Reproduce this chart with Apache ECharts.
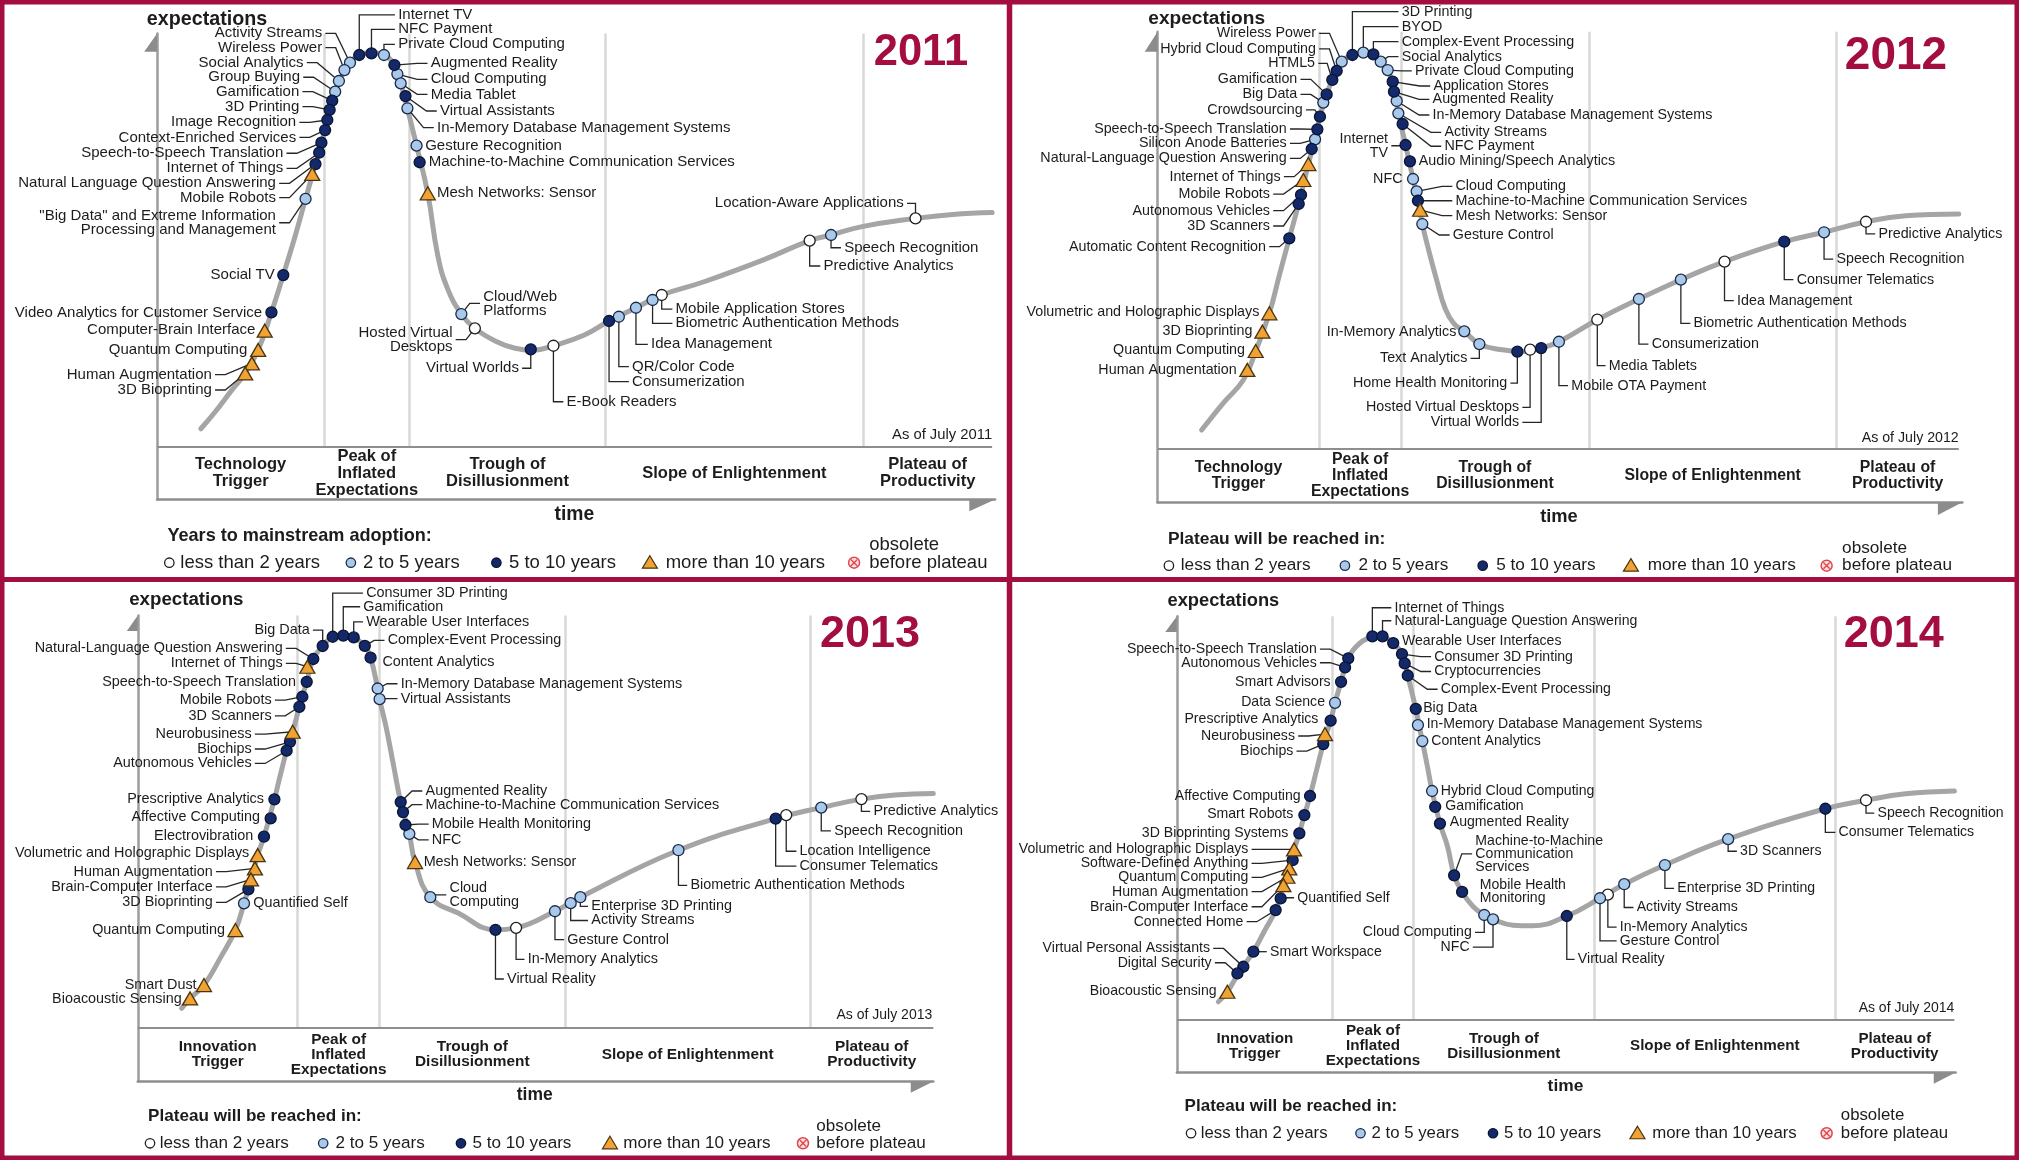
<!DOCTYPE html>
<html>
<head>
<meta charset="utf-8">
<script src="https://cdn.jsdelivr.net/npm/echarts/dist/echarts.min.js"></script>
<style>html,body{margin:0;padding:0;background:#fff;}#c{width:2019px;height:1160px;}</style>
</head>
<body>
<div id="c"></div>
<script>
// ===================== DATA =====================
const categories = ['less than 2 years', '2 to 5 years', '5 to 10 years', 'more than 10 years'];
const obsoleteLabel = ['obsolete', 'before plateau'];
const phasesA = ['Technology\nTrigger', 'Peak of\nInflated\nExpectations', 'Trough of\nDisillusionment', 'Slope of Enlightenment', 'Plateau of\nProductivity'];
const phasesB = ['Innovation\nTrigger', 'Peak of\nInflated\nExpectations', 'Trough of\nDisillusionment', 'Slope of Enlightenment', 'Plateau of\nProductivity'];

// ---- 2011 ----
const names2011 = ['Activity Streams','Wireless Power','Social Analytics','Group Buying','Gamification','3D Printing','Image Recognition','Context-Enriched Services','Speech-to-Speech Translation','Internet of Things','Natural Language Question Answering','Mobile Robots','"Big Data" and Extreme Information\nProcessing and Management','Social TV','Video Analytics for Customer Service','Computer-Brain Interface','Quantum Computing','Human Augmentation','3D Bioprinting','Internet TV','NFC Payment','Private Cloud Computing','Augmented Reality','Cloud Computing','Media Tablet','Virtual Assistants','In-Memory Database Management Systems','Gesture Recognition','Machine-to-Machine Communication Services','Mesh Networks: Sensor','Cloud/Web\nPlatforms','Hosted Virtual\nDesktops','Virtual Worlds','E-Book Readers','QR/Color Code','Consumerization','Idea Management','Biometric Authentication Methods','Mobile Application Stores','Predictive Analytics','Speech Recognition','Location-Aware Applications'];
const time2011 = [149.8,145.5,141.2,138.3,136,134,132.2,130.5,127.6,125.9,123,120.5,115.3,98,88.8,83.6,78.5,73.6,68.4,157,166.5,176.2,184.3,186.6,189.2,192.9,194.4,201.5,203.9,210.2,236.3,246.8,290.2,307.8,358.6,351,371.9,384.8,391.9,506.8,523.4,589];
const expect2011 = [339.3,333.6,325.1,316.8,309.8,302.6,294.8,287,277.2,269.4,260.6,252.9,233.5,174.4,145.4,131.2,116.2,105.8,98,345.3,346.6,345.3,337.5,330.5,323.3,313.4,303.9,274.9,262,237.9,144.1,133,116.7,119.5,142,138.7,149,155,158.9,201.1,205.5,218.4];
const cat2011 = [1,1,1,1,2,2,2,2,2,2,2,3,1,2,2,3,3,3,3,2,2,1,2,1,1,2,1,1,2,3,1,0,2,0,1,2,1,1,0,0,1,0];
const curveT2011 = [34,45,58,68.4,78.5,88.8,98,107,115.3,123,130.5,136,141.2,149.8,157,166.5,176.2,184.3,189.2,194.4,201.5,210.2,217.9,225.5,236.3,246.8,263,278,292,307.8,331.8,351,371.9,391.9,424.2,470.4,506.8,523.4,547.5,589,618,648.5];
const curveE2011 = [55,68,85,98,116.2,145.4,174.4,204,233.5,260.6,287,309.8,325.1,339.3,345.3,347,345.3,337.5,323.3,303.9,274.9,237.9,190,164,144.1,133,123,117.5,116,119.5,127.8,138.7,149,158.9,169,186,201.1,205.5,212,218.4,221.5,223];
const bounds2011 = [129.7,196,348.2,548.4];

// ---- 2012 ----
const names2012 = ['Wireless Power','Hybrid Cloud Computing','HTML5','Gamification','Big Data','Crowdsourcing','Speech-to-Speech Translation','Silicon Anode Batteries','Natural-Language Question Answering','Internet of Things','Mobile Robots','Autonomous Vehicles','3D Scanners','Automatic Content Recognition','Volumetric and Holographic Displays','3D Bioprinting','Quantum Computing','Human Augmentation','3D Printing','BYOD','Complex-Event Processing','Social Analytics','Private Cloud Computing','Application Stores','Augmented Reality','In-Memory Database Management Systems','Activity Streams','NFC Payment','Internet\nTV','Audio Mining/Speech Analytics','NFC','Cloud Computing','Machine-to-Machine Communication Services','Mesh Networks: Sensor','Gesture Control','In-Memory Analytics','Text Analytics','Home Health Monitoring','Hosted Virtual Desktops','Virtual Worlds','Mobile OTA Payment','Media Tablets','Consumerization','Biometric Authentication Methods','Idea Management','Consumer Telematics','Speech Recognition','Predictive Analytics'];
const time2012 = [143,139.1,135.7,131.3,128.7,126.1,124.1,122.3,119.7,117.1,113.2,111.4,109.6,102.3,86.8,81.4,76.2,69.7,151.3,159.8,167.6,173.3,178.7,182.6,183.6,185.7,187,190.3,192.6,196,198.4,201.2,202.2,203.9,205.6,238.2,249.9,279.4,289.3,297.9,311.7,341.5,373.8,406.4,440.3,486.7,517.6,550.2];
const expect2012 = [342.1,334.9,327.9,316.7,310.3,299.4,289.6,281.8,274.3,262.6,250.2,238.6,231.6,204.9,146.7,132.4,117.4,102.7,347.3,349.1,347.8,342.1,335.6,326.6,318.8,311.6,302,293.7,277.4,264.7,251,241.4,234.1,227.1,216,132.7,122.8,116.9,118.4,119.7,124.6,141.7,157.8,172.8,186.8,202.3,209.6,217.8];
const cat2012 = [1,2,2,2,1,2,2,1,2,3,3,2,2,2,3,3,3,3,2,1,2,1,1,2,2,1,1,2,2,2,1,1,2,3,1,1,1,2,0,2,1,0,1,1,0,2,1,0];
const curveT2012 = [34.2,51,66.6,76.2,86.8,94.5,102.3,111.4,117.1,122.3,126.1,131.3,135.7,143,151.3,159.8,167.6,173.3,178.7,183,187,192.6,198.4,202.2,205.6,209.7,216.6,223.5,230.3,238.2,249.9,266,285,297.9,311.7,341.5,373.8,406.4,440.3,486.7,517.6,550.2,581,622.2];
const curveE2012 = [56,77,94.9,117.4,146.7,176,204.9,238.6,262.6,281.8,299.4,316.7,327.9,342.1,347.3,349.5,347.8,342.1,335.6,323,302,277.4,251,234.1,216,199,173,150,138.4,132.7,122.8,118.5,117,119.7,124.6,141.7,157.8,172.8,186.8,202.3,209.6,217.8,222.5,223.8];
const bounds2012 = [125.6,189,335,527.2];

// ---- 2013 ----
const names2013 = ['Big Data','Natural-Language Question Answering','Internet of Things','Speech-to-Speech Translation','Mobile Robots','3D Scanners','Neurobusiness','Biochips','Autonomous Vehicles','Prescriptive Analytics','Affective Computing','Electrovibration','Volumetric and Holographic Displays','Human Augmentation','Brain-Computer Interface','3D Bioprinting','Quantified Self','Quantum Computing','Smart Dust','Bioacoustic Sensing','Consumer 3D Printing','Gamification','Wearable User Interfaces','Complex-Event Processing','Content Analytics','In-Memory Database Management Systems','Virtual Assistants','Augmented Reality','Machine-to-Machine Communication Services','Mobile Health Monitoring','NFC','Mesh Networks: Sensor','Cloud\nComputing','Virtual Reality','In-Memory Analytics','Gesture Control','Activity Streams','Enterprise 3D Printing','Biometric Authentication Methods','Consumer Telematics','Location Intelligence','Speech Recognition','Predictive Analytics'];
const time2013 = [143.6,136.3,131.7,131.2,127.8,125.5,120.3,118.2,115.6,106.1,103.2,98,93.1,91,87.9,85.9,82.5,75.8,51.4,40.6,151.4,159.6,167.7,176.3,180.8,186.3,187.8,204.2,206,207.9,210.9,215.3,227.2,277.8,293.8,324,336.2,343.7,419.9,495.4,503.6,530.8,562];
const expect2013 = [338.3,328.2,322.2,310.5,298.9,291.1,271.7,263.9,257,219.2,204.4,190.2,175.9,165.6,157,149.3,138.4,117.7,75,64.6,345.5,346.4,345,338.4,329.2,305.3,297,217.1,209.3,199.3,192.4,170.5,143.2,117.9,119.4,132.3,138.6,143.2,179.7,204.2,207,212.8,219.4];
const cat2013 = [2,2,3,2,2,2,3,2,2,2,2,2,3,3,3,2,1,3,3,3,2,2,2,2,2,1,1,2,2,2,1,3,1,2,0,1,1,1,1,2,0,1,0];
const curveT2013 = [34.1,40.6,51.4,63.9,75.8,82.5,87.9,93.1,98,106.1,110.4,115.6,120.3,125.5,131.2,136.3,143.6,151.4,159.6,167.7,176.3,180.8,186.3,187.8,193,198.6,204.2,210.9,215.3,227.2,248.8,277.8,293.8,324,343.7,419.9,495.4,530.8,562,588,617.8];
const curveE2013 = [56.9,64.6,75,95.7,117.7,138.4,157,175.9,190.2,219.2,236.8,257,271.7,291.1,310.5,328.2,338.3,345.5,346.8,345,338.4,329.2,305.3,297,274.6,245.8,217.1,192.4,170.5,143.2,130.9,117.9,119.4,132.3,143.2,179.7,204.2,212.8,219.4,222.5,223.7];
const bounds2013 = [124.2,187.8,331.8,522.2];

// ---- 2014 ----
const names2014 = ['Speech-to-Speech Translation','Autonomous Vehicles','Smart Advisors','Data Science','Prescriptive Analytics','Neurobusiness','Biochips','Affective Computing','Smart Robots','3D Bioprinting Systems','Volumetric and Holographic Displays','Software-Defined Anything','Quantum Computing','Human Augmentation','Brain-Computer Interface','Quantified Self','Connected Home','Smart Workspace','Virtual Personal Assistants','Digital Security','Bioacoustic Sensing','Internet of Things','Natural-Language Question Answering','Wearable User Interfaces','Consumer 3D Printing','Cryptocurrencies','Complex-Event Processing','Big Data','In-Memory Database Management Systems','Content Analytics','Hybrid Cloud Computing','Gamification','Augmented Reality','Machine-to-Machine\nCommunication\nServices','Mobile Health\nMonitoring','Cloud Computing','NFC','Virtual Reality','Gesture Control','In-Memory Analytics','Activity Streams','Enterprise 3D Printing','3D Scanners','Consumer Telematics','Speech Recognition'];
const time2014 = [133.1,130.6,127.5,122.8,119.4,115,113.7,103.4,99,95.1,91,89.9,87.3,85.8,82.7,80.6,76.7,59.4,51.6,47,39.2,151.8,159.7,168,174.8,176.9,179.3,185.5,187.2,190.6,198.2,200.6,204.3,215.3,221.5,238.7,245.5,302.8,328.6,334.7,347.4,379,428.1,503.6,535.2];
const expect2014 = [321.7,314.7,303.5,287.2,273.3,262.9,255.1,214.8,200,185.8,173.3,165,158.6,152.1,145.6,135.3,126.2,93.9,82.2,77,62.8,338.8,338.8,333.6,325,317.8,308.4,282.5,269.9,257.5,218.7,206.4,193.4,153.2,140.3,122.4,119,121.6,135.4,138.2,146.3,161.2,181.3,204.9,211.5];
const cat2014 = [2,2,2,1,2,3,2,2,2,2,3,2,3,3,3,2,2,2,2,2,3,2,2,2,2,2,2,2,1,1,1,2,2,2,2,1,1,2,1,0,1,1,1,2,0];
const curveT2014 = [32.2,39.2,49,59.4,68,76.7,82.7,87.3,91,95.1,99,103.4,108.5,113.7,119.4,122.8,127.5,133.1,141.5,151.8,155.7,159.7,168,174.8,179.3,185.5,190.6,194.5,198.2,204.3,210.2,215.3,221.5,230,238.7,245.5,261,276,302.8,328.6,347.4,379,428.1,503.6,535.2,566,603.8];
const curveE2014 = [55,62.8,79,93.9,110,126.2,145.6,158.6,173.3,185.8,200,214.8,235,255.1,273.3,287.2,303.5,321.7,333,338.8,339.7,338.8,333.6,325,308.4,282.5,257.5,238,218.7,193.4,175.6,153.2,140.3,129,122.4,119,114.5,114,121.6,135.4,146.3,161.2,181.3,204.9,211.5,216.5,218.7];
const bounds2014 = [121,183.5,324.4,511.1];

// ===================== LABEL LAYOUT (side, dx, dy in reference px, leader kind) =====================
const layout2011 = [['L',-21.6,-22.8,'h'],['L',-17.3,-17.4,'h'],['L',-27.4,-14.2,'h'],['L',-27.3,-11.2,'h'],['L',-25.6,-7,'h'],['L',-23.6,-2.6,'h'],['L',-24.2,1.8,'h'],['L',-22.5,5.7,'h'],['L',-29.6,8.2,'h'],['L',-27.9,12.1,'h'],['L',-30.7,15,'h'],['L',-28.2,18.4,'h'],['L',-23,18.5,'h'],['L',-6.6,0,'n'],['L',-7.2,0,'n'],['L',-7.2,-0.5,'n'],['L',-8.5,0,'n'],['L',-31.1,8.8,'h'],['L',-25.9,12.9,'h'],
['R',30.2,-31.1,'v'],['R',20.7,-18.6,'v'],['R',11,-8.3,'v'],['R',28.2,-1.3,'h'],['R',25.9,4.1,'h'],['R',23.3,8.6,'h'],['R',26.8,11.6,'h'],['R',23,15,'h'],['R',6.7,0,'n'],['R',7.1,0,'n'],['R',7.2,0,'n'],['R',17,-8.3,'h'],['L',-17.4,8.7,'h'],['L',-9.2,14.7,'v'],['R',10.2,43.5,'v'],['R',10.3,38.8,'v'],['R',17.9,47.1,'v'],['R',11.7,28.4,'v'],['R',17.9,18.1,'v'],['R',10.8,10.9,'v'],['R',10.8,19.7,'v'],['R',10.2,9.9,'v'],['L',-9.1,-11.7,'v']];
const layout2012 = [['L',-20,-22,'h'],['L',-16.1,-17.1,'h'],['L',-13.4,-12.9,'h'],['L',-22.8,-11.7,'h'],['L',-20.2,-6.4,'h'],['L',-13.4,-5.2,'h'],['L',-23.8,-0.2,'h'],['L',-22,3.1,'h'],['L',-19.4,7.3,'h'],['L',-21.5,9.8,'h'],['L',-25.9,10.9,'h'],['L',-24.1,12.2,'h'],['L',-22.3,17.1,'h'],['L',-18.1,6.5,'h'],['L',-7.8,-1.3,'n'],['L',-7.8,-0.6,'n'],['L',-8.3,-0.8,'n'],['L',-8.3,0,'n'],
['R',38.3,-33.7,'v'],['R',29.8,-20.2,'v'],['R',22,-9.8,'v'],['R',16.3,-3.9,'h'],['R',21.2,0.7,'h'],['R',31.6,3.4,'h'],['R',30,5.9,'h'],['R',27.9,10.9,'h'],['R',35.8,14.8,'h'],['R',32.5,17.3,'h'],['L',-13.6,0.6,'h'],['R',6.9,0,'n'],['L',-8.2,0,'n'],['R',30.2,-3.9,'h'],['R',29.2,0,'h'],['R',27.5,4.6,'h'],['R',23.7,8.5,'h'],['L',-6.2,0.3,'n'],['L',-9.3,11.1,'v'],['L',-7.9,24.4,'v'],['L',-8.5,44.8,'v'],['L',-17.1,57.7,'v'],['R',9.6,34.1,'v'],['R',8.9,35.7,'v'],['R',9.9,35,'v'],['R',9.9,33.9,'v'],['R',9.7,30.3,'v'],['R',9.6,29.5,'v'],['R',9.6,20.8,'v'],['R',9.6,9.5,'v']];
const layout2013 = [['L',-10.1,-12.4,'v'],['L',-23.8,-8.2,'h'],['L',-19.2,-2.6,'h'],['L',-8.3,0,'n'],['L',-23.8,2.6,'h'],['L',-21.5,7,'h'],['L',-31.9,1.8,'h'],['L',-29.8,5.6,'h'],['L',-27.2,9.9,'h'],['L',-8.1,-0.2,'n'],['L',-8.3,-0.8,'n'],['L',-8.3,-0.8,'n'],['L',-6.5,-1.3,'n'],['L',-32.8,2.6,'h'],['L',-29.7,5.7,'h'],['L',-27.7,10.1,'h'],['R',7.2,0,'n'],['L',-8.1,0,'n'],['L',-5.7,0,'n'],['L',-6.5,0.5,'n'],
['R',26,-33.9,'v'],['R',15.6,-22.4,'v'],['R',9.7,-12,'v'],['R',17.8,-4.3,'h'],['R',9.2,3.5,'n'],['R',17.9,-3.7,'h'],['R',16.4,-0.5,'h'],['R',19.3,-8.6,'h'],['R',17.5,-5.8,'h'],['R',20.5,-0.6,'h'],['R',17.5,4.6,'h'],['R',6.7,0,'n'],['R',14.9,-1.8,'h'],['R',9,38.2,'v'],['R',9,24.4,'v'],['R',9.6,22.1,'v'],['R',16,13.5,'v'],['R',8.5,7.1,'v'],['R',9.3,27.3,'v'],['R',18.6,36.8,'v'],['R',10.4,28.1,'v'],['R',10,18.1,'v'],['R',9.3,9.5,'v']];
const layout2014 = [['L',-24.5,-7.2,'h'],['L',-22,-3.6,'h'],['L',-8.1,0,'n'],['L',-7.8,-0.3,'n'],['L',-9.5,-1.3,'n'],['L',-23.3,1.5,'h'],['L',-23.3,5.4,'h'],['L',-7.3,0,'n'],['L',-8.6,-0.5,'n'],['L',-8.6,0,'n'],['L',-35.5,0,'h'],['L',-34.4,2.5,'h'],['L',-31.8,7,'h'],['L',-30.3,11.6,'h'],['L',-27.2,16.8,'h'],['R',12.9,-0.5,'h'],['L',-25.1,9,'h'],['R',12.9,0,'h'],['L',-25.9,-14.2,'h'],['L',-20,-8.3,'h'],['L',-8.3,-0.8,'n'],
['R',17.2,-22.2,'v'],['R',9.3,-12.1,'v'],['R',6.8,-1.5,'n'],['R',25.1,2,'h'],['R',23,6.3,'h'],['R',25.7,10.7,'h'],['R',5.8,-0.9,'n'],['R',6.8,-0.5,'n'],['R',6.9,0,'n'],['R',6.8,0,'n'],['R',7.9,-0.2,'n'],['R',7.6,-0.9,'n'],['R',16.5,-16.7,'h'],['R',13.7,-0.6,'n'],['L',-9.7,13.5,'v'],['L',-18.2,21.5,'v'],['R',8.6,33.6,'v'],['R',15.4,33.1,'v'],['R',9.3,25.2,'v'],['R',9.7,18.1,'v'],['R',9.6,18.1,'v'],['R',9.3,9.4,'v'],['R',10.3,18.4,'v'],['R',8.9,10,'v']];

// ===================== STYLE / PAGE LAYOUT =====================
const S = 2019 / 1568;
const FONT = "'Liberation Sans', Arial, Helvetica, sans-serif";
const CRIMSON = '#a30d3f';
const TXT = '#1c1c1c';
const CAT_STYLE = [
  {symbol: 'circle', size: 11, color: '#ffffff', border: '#1f1f1f'},
  {symbol: 'circle', size: 11, color: '#a9c9ea', border: '#1b2a4a'},
  {symbol: 'circle', size: 11, color: '#13296a', border: '#0a1433'},
  {symbol: 'triangle', size: [15, 13], color: '#f0a232', border: '#4a3410'}
];

const PANELS = [
  {year: '2011', names: names2011, time: time2011, expect: expect2011, cat: cat2011, layout: layout2011,
   curveT: curveT2011, curveE: curveE2011, phases: phasesA, bounds: bounds2011, phaseTop: 41, phaseEnd: 648.5,
   legendTitle: 'Years to mainstream adoption:',
   box: {X0: 122, Y0: 388, top: 26, right: 772.8}, arrowY: [14.2, 10], arrowX: [20, 9],
   fs: {label: 15, phase: 16.5, exp: 19.7, year: 43.5, asof: 14.8, time: 19.3, legTitle: 18.1, leg: 18.5},
   pos: {exp: [160.8, 15.5], year: [715.2, 41.5], asof: [770.5, 337.8], time: [446, 400], legTitle: [130, 416], legY: 437, obsY: 423.3,
         leg: [[131.5, 140], [272.5, 282], [385.5, 395.3], [504.7, 517], [663.3, 675]]}},
  {year: '2012', names: names2012, time: time2012, expect: expect2012, cat: cat2012, layout: layout2012,
   curveT: curveT2012, curveE: curveE2012, phases: phasesA, bounds: bounds2012, phaseTop: 41.8, phaseEnd: 622.2,
   legendTitle: 'Plateau will be reached in:',
   box: {X0: 899, Y0: 390, top: 24.6, right: 1524}, arrowY: [15.5, 10], arrowX: [19, 10],
   fs: {label: 14.3, phase: 15.8, exp: 19.1, year: 46, asof: 14.2, time: 18.3, legTitle: 17.4, leg: 17.2},
   pos: {exp: [937.1, 14.2], year: [1472.5, 43.5], asof: [1521.2, 340.2], time: [1210.7, 401.8], legTitle: [907, 418.5], legY: 439.3, obsY: 425.8,
         leg: [[907.8, 917], [1044.5, 1055], [1151.5, 1162], [1266.6, 1279.6], [1418.6, 1430.6]]}},
  {year: '2013', names: names2013, time: time2013, expect: expect2013, cat: cat2013, layout: layout2013,
   curveT: curveT2013, curveE: curveE2013, phases: phasesB, bounds: bounds2013, phaseTop: 41.8, phaseEnd: 617.8,
   legendTitle: 'Plateau will be reached in:',
   box: {X0: 107, Y0: 840, top: 478, right: 724.8}, arrowY: [12, 8.5], arrowX: [17.5, 8.6],
   fs: {label: 14.4, phase: 15.4, exp: 18.7, year: 45, asof: 14, time: 17.5, legTitle: 17.1, leg: 17.1},
   pos: {exp: [144.7, 465.5], year: [675.7, 492.6], asof: [724, 788.1], time: [415.3, 850.5], legTitle: [115, 867.3], legY: 887.9, obsY: 874.4,
         leg: [[116.5, 124], [251, 260.5], [358, 367], [473.7, 484.1], [623.6, 634]]}},
  {year: '2014', names: names2014, time: time2014, expect: expect2014, cat: cat2014, layout: layout2014,
   curveT: curveT2014, curveE: curveE2014, phases: phasesB, bounds: bounds2014, phaseTop: 41.1, phaseEnd: 603.8,
   legendTitle: 'Plateau will be reached in:',
   box: {X0: 914, Y0: 833, top: 478.5, right: 1518.8}, arrowY: [12.4, 9], arrowX: [17, 8.6],
   fs: {label: 14.1, phase: 15.2, exp: 18.3, year: 45, asof: 14, time: 17.4, legTitle: 17, leg: 16.8},
   pos: {exp: [950.1, 466.6], year: [1470.8, 493.2], asof: [1517.8, 783], time: [1215.8, 843.6], legTitle: [920, 859], legY: 880.1, obsY: 866.6,
         leg: [[925, 932.5], [1056.6, 1065.2], [1159.5, 1168.1], [1271.7, 1283.1], [1418.6, 1429.6]]}}
];

// ===================== BUILD =====================
const grids = [], xAxes = [], yAxes = [], series = [], graphics = [];

function text(x, y, str, size, extra) {
  return Object.assign({type: 'text', x: x * S, y: y * S, silent: true, z: 50,
    style: Object.assign({text: str, fontSize: size, fontFamily: FONT, fill: TXT, align: 'left', verticalAlign: 'middle'}, extra || {})});
}

function labelRenderer(P) {
  return function (params, api) {
    const i = api.value(2);
    const p = api.coord([api.value(0), api.value(1)]);
    const L = P.layout[i];
    const side = L[0], kind = L[3];
    const lx = p[0] + L[1] * S, ly = p[1] + L[2] * S;
    const dir = side === 'L' ? 1 : -1;
    const gap = 2.5 * S;
    const children = [];
    const lineStyle = {stroke: '#262626', lineWidth: 1.3, fill: null};
    if (kind === 'h') {
      const x1 = lx + dir * gap;
      const avail = Math.abs(p[0] - x1);
      const stub = Math.min(8 * S, Math.max(0, avail - 4 * S));
      children.push({type: 'polyline', shape: {points: [[x1, ly], [x1 + dir * stub, ly], [p[0], p[1]]]}, style: lineStyle});
    } else if (kind === 'v') {
      children.push({type: 'polyline', shape: {points: [[p[0], p[1]], [p[0], ly], [lx + dir * gap, ly]]}, style: lineStyle});
    }
    children.push({type: 'text', x: lx, y: ly, style: {text: P.names[i], fontSize: P.fs.label, fontFamily: FONT, fill: TXT,
      align: side === 'L' ? 'right' : 'left', verticalAlign: 'middle', lineHeight: Math.round(P.fs.label * 0.95)}});
    return {type: 'group', children: children};
  };
}

PANELS.forEach(function (P, k) {
  const b = P.box;
  const xMax = +(b.right - b.X0).toFixed(2), yMax = +(b.Y0 - b.top).toFixed(2);
  grids.push({left: b.X0 * S, top: b.top * S, width: xMax * S, height: yMax * S, containLabel: false});
  const axisCommon = {type: 'value', gridIndex: k, min: 0, axisTick: {show: false}, axisLabel: {show: false}, splitLine: {show: false}};
  xAxes.push(Object.assign({}, axisCommon, {max: xMax, axisLine: {show: true, onZero: false, lineStyle: {color: '#8e8e8e', width: 2.5}}}));
  yAxes.push(Object.assign({}, axisCommon, {max: yMax, axisLine: {show: true, onZero: false, lineStyle: {color: '#9c9c9c', width: 2.5}}}));

  const edges = [0].concat(P.bounds, [P.phaseEnd]);
  const sepLines = P.bounds.map(function (t) { return [{coord: [t, P.phaseTop]}, {coord: [t, yMax]}]; });
  sepLines.push([{coord: [0, P.phaseTop], lineStyle: {color: '#8e8e8e', width: 2.2, type: 'solid'}}, {coord: [P.phaseEnd, P.phaseTop]}]);

  series.push({
    type: 'line', name: 'Hype cycle ' + P.year, xAxisIndex: k, yAxisIndex: k, smooth: 0.45, symbol: 'none', silent: true, z: 2,
    data: P.curveT.map(function (t, i) { return [t, P.curveE[i]]; }),
    lineStyle: {color: '#a5a5a5', width: 5, cap: 'round'},
    markLine: {silent: true, z: 1, symbol: ['none', 'none'], label: {show: false}, animation: false,
      lineStyle: {color: '#d8d8d8', width: 2.5, type: 'solid'}, emphasis: {disabled: true}, data: sepLines},
    markArea: {silent: true, z: 1, itemStyle: {color: 'rgba(0,0,0,0)'}, emphasis: {disabled: true},
      label: {show: true, position: 'inside', color: TXT, fontFamily: FONT, fontWeight: 'bold', fontSize: P.fs.phase, lineHeight: Math.round(P.fs.phase * 1.0)},
      data: P.phases.map(function (name, j) { return [{name: name, coord: [edges[j], 0]}, {coord: [edges[j + 1], P.phaseTop]}]; })}
  });

  series.push({
    type: 'custom', name: 'labels ' + P.year, xAxisIndex: k, yAxisIndex: k, z: 3, silent: true, clip: false,
    renderItem: labelRenderer(P),
    data: P.names.map(function (n, i) { return [P.time[i], P.expect[i], i]; })
  });

  for (let c = 0; c < 4; c++) {
    const st = CAT_STYLE[c];
    const pts = [];
    P.cat.forEach(function (cc, i) { if (cc === c) pts.push([P.time[i], P.expect[i]]); });
    series.push({type: 'scatter', name: categories[c], xAxisIndex: k, yAxisIndex: k, symbol: st.symbol, symbolSize: st.size,
      clip: false, silent: true, z: 5, itemStyle: {color: st.color, borderColor: st.border, borderWidth: 1.3, opacity: 1}, data: pts});
  }

  // axis arrowheads (half arrows)
  graphics.push({type: 'polygon', silent: true, z: 40, shape: {points: [[b.X0 * S, b.top * S], [b.X0 * S, (b.top + P.arrowY[0]) * S], [(b.X0 - P.arrowY[1]) * S, (b.top + P.arrowY[0]) * S]]}, style: {fill: '#8c8c8c'}});
  graphics.push({type: 'polygon', silent: true, z: 40, shape: {points: [[b.right * S, b.Y0 * S], [(b.right - P.arrowX[0]) * S, b.Y0 * S], [(b.right - P.arrowX[0]) * S, (b.Y0 + P.arrowX[1]) * S]]}, style: {fill: '#8c8c8c'}});

  // texts
  graphics.push(text(P.pos.exp[0], P.pos.exp[1], 'expectations', P.fs.exp, {fontWeight: 'bold', align: 'center'}));
  graphics.push(text(P.pos.year[0], P.pos.year[1], P.year, P.fs.year, {fontWeight: 'bold', align: 'center', fill: CRIMSON}));
  graphics.push(text(P.pos.asof[0], P.pos.asof[1], 'As of July ' + P.year, P.fs.asof, {align: 'right'}));
  graphics.push(text(P.pos.time[0], P.pos.time[1], 'time', P.fs.time, {fontWeight: 'bold', align: 'center'}));
  graphics.push(text(P.pos.legTitle[0], P.pos.legTitle[1], P.legendTitle, P.fs.legTitle, {fontWeight: 'bold'}));

  // legend
  const ly = P.pos.legY * S;
  P.pos.leg.forEach(function (it, j) {
    const cx = it[0] * S;
    if (j < 3) {
      graphics.push({type: 'circle', silent: true, z: 40, shape: {cx: cx, cy: ly, r: 4.7}, style: {fill: CAT_STYLE[j].color, stroke: CAT_STYLE[j].border, lineWidth: 1.3}});
    } else if (j === 3) {
      graphics.push({type: 'polygon', silent: true, z: 40, shape: {points: [[cx, ly - 7], [cx + 7.5, ly + 5.5], [cx - 7.5, ly + 5.5]]}, style: {fill: CAT_STYLE[3].color, stroke: CAT_STYLE[3].border, lineWidth: 1.2}});
    } else {
      graphics.push({type: 'circle', silent: true, z: 40, shape: {cx: cx, cy: ly, r: 5.5}, style: {fill: '#fbe4e4', stroke: '#e0474c', lineWidth: 1.5}});
      graphics.push({type: 'line', silent: true, z: 41, shape: {x1: cx - 3.2, y1: ly - 3.2, x2: cx + 3.2, y2: ly + 3.2}, style: {stroke: '#e0474c', lineWidth: 1.4}});
      graphics.push({type: 'line', silent: true, z: 41, shape: {x1: cx - 3.2, y1: ly + 3.2, x2: cx + 3.2, y2: ly - 3.2}, style: {stroke: '#e0474c', lineWidth: 1.4}});
    }
    graphics.push(text(it[1], P.pos.legY, j < 4 ? categories[j] : obsoleteLabel[1], P.fs.leg));
  });
  graphics.push(text(P.pos.leg[4][1], P.pos.obsY, obsoleteLabel[0], P.fs.leg));
});

// crimson panel frames
graphics.push({type: 'rect', silent: true, z: 100, shape: {x: 0, y: 0, width: 2019, height: 1160}, style: {fill: null, stroke: CRIMSON, lineWidth: 9}});
graphics.push({type: 'line', silent: true, z: 100, shape: {x1: 1009.5, y1: 0, x2: 1009.5, y2: 1160}, style: {stroke: CRIMSON, lineWidth: 5.5}});
graphics.push({type: 'line', silent: true, z: 100, shape: {x1: 0, y1: 579.5, x2: 2019, y2: 579.5}, style: {stroke: CRIMSON, lineWidth: 5}});

const chart = echarts.init(document.getElementById('c'), null, {renderer: 'canvas', width: 2019, height: 1160});
chart.setOption({
  animation: false,
  backgroundColor: '#ffffff',
  textStyle: {fontFamily: FONT},
  grid: grids,
  xAxis: xAxes,
  yAxis: yAxes,
  series: series,
  graphic: {elements: graphics}
});
</script>
</body>
</html>
